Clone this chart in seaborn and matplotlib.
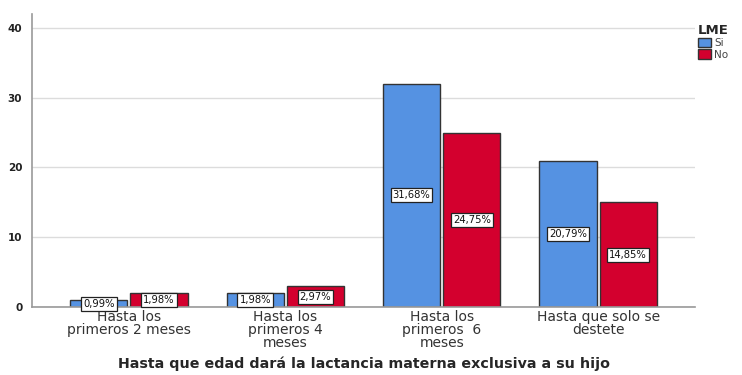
import matplotlib
matplotlib.use("Agg")
import matplotlib.pyplot as plt
import seaborn as sns
import pandas as pd

categories = ["Hasta los\nprimeros 2 meses", "Hasta los\nprimeros 4\nmeses",
              "Hasta los\nprimeros  6\nmeses", "Hasta que solo se\ndestete"]
si_counts = [1, 2, 32, 21]
no_counts = [2, 3, 25, 15]
si_labels = ["0,99%", "1,98%", "31,68%", "20,79%"]
no_labels = ["1,98%", "2,97%", "24,75%", "14,85%"]
hue_names = ["Si", "No"]

df = pd.DataFrame({
    "cat": categories * 2,
    "LME": [hue_names[0]] * 4 + [hue_names[1]] * 4,
    "n": si_counts + no_counts,
})

sns.set_style("white")
plt.rcParams["font.family"] = ["DejaVu Sans"]

fig = plt.figure(figsize=(7.42, 3.75), dpi=100)
ax = fig.add_axes([0.0431, 0.1813, 0.8936, 0.7814])

palette = {"Si": "#5592E2", "No": "#D3002E"}
sns.barplot(data=df, x="cat", y="n", hue="LME", palette=palette, ax=ax,
            width=0.77, gap=0.05, edgecolor="#333333", linewidth=1.0,
            saturation=1, legend=True)

ax.set_ylim(0, 42)
ax.set_xlim(-0.62, 3.62)
ax.set_yticks([0, 10, 20, 30, 40])
ax.yaxis.grid(True, color="#dcdcdc", linewidth=1)
ax.set_axisbelow(True)
for s in ["top", "right"]:
    ax.spines[s].set_visible(False)
for s in ["left", "bottom"]:
    ax.spines[s].set_color("#999999")
    ax.spines[s].set_linewidth(1.2)
ax.tick_params(axis="both", length=0)
ax.tick_params(axis="y", labelsize=7.5, labelcolor="#222222", pad=7)
ax.tick_params(axis="x", labelsize=10, labelcolor="#333333", pad=2)
for t in ax.get_yticklabels():
    t.set_fontweight("bold")
for t in ax.get_xticklabels():
    t.set_linespacing(0.92)
ax.set_ylabel("")
ax.set_xlabel("Hasta que edad dará la lactancia materna exclusiva a su hijo",
              fontsize=10.3, fontweight="bold", labelpad=5)

# value labels at bar midpoints
for cont, labs in zip(ax.containers, [si_labels, no_labels]):
    for bar, lab in zip(cont, labs):
        cx = bar.get_x() + bar.get_width() / 2
        cy = bar.get_height() / 2
        ax.text(cx, cy, lab, ha="center", va="center", fontsize=7.2, color="#111111",
                bbox=dict(boxstyle="square,pad=0.2", facecolor="white",
                          edgecolor="#222222", linewidth=0.9))

leg = ax.legend(title="LME", loc="upper left", bbox_to_anchor=(0.998, 0.98),
                frameon=False, fontsize=7.5, title_fontsize=9.5,
                handlelength=1.3, handleheight=1.0, handletextpad=0.25,
                borderaxespad=0.0, labelspacing=0.1, alignment="left")
leg.get_title().set_fontweight("bold")
for t in leg.get_texts():
    t.set_color("#444444")

fig.savefig("out.png", dpi=100)
